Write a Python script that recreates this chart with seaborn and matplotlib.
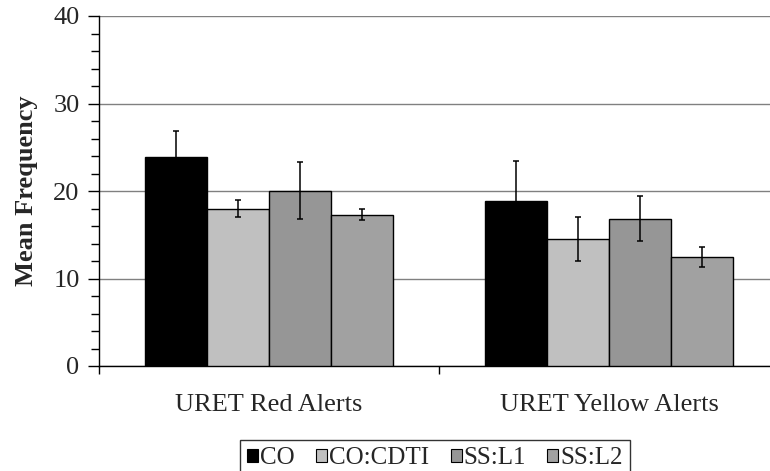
import matplotlib
matplotlib.use("Agg")
import matplotlib.pyplot as plt
from matplotlib.ticker import MultipleLocator, FixedLocator
import numpy as np
import pandas as pd
import seaborn as sns

# Chart data
categories = ["URET Red Alerts", "URET Yellow Alerts"]
conditions = ["CO", "CO:CDTI", "SS:L1", "SS:L2"]
means_red = [23.85, 18.0, 20.05, 17.3]
means_yellow = [18.9, 14.55, 16.85, 12.5]
err_red = [3.05, 1.0, 3.3, 0.65]
err_yellow = [4.5, 2.5, 2.6, 1.15]
colors = ["#000000", "#c0c0c0", "#969696", "#a1a1a1"]

sns.set_theme(style="white")
plt.rcParams["font.family"] = ["Liberation Serif", "DejaVu Serif"]
FS = 19

rows = []
for cat, means, errs in [(categories[0], means_red, err_red),
                         (categories[1], means_yellow, err_yellow)]:
    for cond, m, e in zip(conditions, means, errs):
        rows.append({"Alert": cat, "Condition": cond, "Mean": m, "Err": e})
df = pd.DataFrame(rows)

fig = plt.figure(figsize=(7.7, 4.71), dpi=100)
ax = fig.add_axes([99 / 770, 1 - 366 / 471, 680 / 770, 350 / 471])

sns.barplot(data=df, x="Alert", y="Mean", hue="Condition",
            hue_order=conditions, order=categories, palette=colors,
            width=0.73, edgecolor="black", linewidth=1.0,
            errorbar=None, legend=True, ax=ax, zorder=3)

# error bars centered on each bar
for patch_group, cond in zip(ax.containers, conditions):
    sub = df[df["Condition"] == cond].set_index("Alert").loc[categories]
    xs = [p.get_x() + p.get_width() / 2 for p in patch_group]
    ax.errorbar(xs, sub["Mean"].values, yerr=sub["Err"].values, fmt="none",
                ecolor="black", elinewidth=1.1, capsize=2.3, capthick=1.1,
                zorder=4)

ax.set_xlim(-0.5, 1.5)
ax.set_ylim(0, 40)
ax.yaxis.set_major_locator(MultipleLocator(10))
ax.yaxis.set_minor_locator(MultipleLocator(2))
ax.xaxis.set_minor_locator(FixedLocator([-0.5, 0.5, 1.5]))
ax.grid(axis="y", which="major", color="#808080", linewidth=1.0, zorder=0)
ax.set_axisbelow(True)

for side in ["top", "right"]:
    ax.spines[side].set_visible(False)
for side in ["left", "bottom"]:
    ax.spines[side].set_color("black")
    ax.spines[side].set_linewidth(1.0)

ax.tick_params(axis="y", which="major", direction="out", length=8, width=1,
               color="black", labelsize=FS, pad=6, left=True)
ax.tick_params(axis="y", which="minor", direction="out", length=6, width=1,
               color="black", left=True)
ax.tick_params(axis="x", which="major", length=0, labelsize=FS, pad=20)
ax.tick_params(axis="x", which="minor", direction="out", length=6, width=1,
               color="black", bottom=True)

ax.set_xlabel("")
ax.set_ylabel("Mean Frequency", fontsize=FS, fontweight="bold", labelpad=11)

ax.get_legend().remove()
handles = [plt.Rectangle((0, 0), 1, 1, facecolor=c, edgecolor="black",
                         linewidth=0.8) for c in colors]
leg = fig.legend(handles, conditions, loc="upper center",
                 bbox_to_anchor=(435 / 770, 1 - 440 / 471),
                 ncol=4, frameon=True, fancybox=False, edgecolor="black",
                 fontsize=18, handlelength=0.44, handleheight=0.44,
                 handletextpad=0.08, columnspacing=0.85, borderpad=0.3,
                 borderaxespad=0)
leg.get_frame().set_linewidth(1.0)

fig.savefig("out.png", dpi=100)
